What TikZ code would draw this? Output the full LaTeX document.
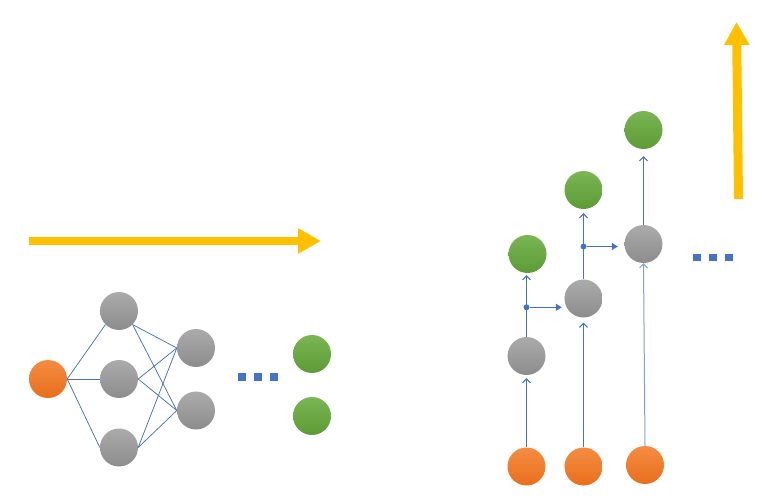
\documentclass[tikz,border=0pt]{standalone}
\usetikzlibrary{arrows.meta,calc}
\definecolor{lblue}{HTML}{4472C4}
\definecolor{llblue}{HTML}{7E9FD8}
\definecolor{yel}{HTML}{FFC000}
\definecolor{orgT}{HTML}{F58C42}
\definecolor{orgB}{HTML}{E86F1C}
\definecolor{gryT}{HTML}{ABABAB}
\definecolor{gryB}{HTML}{8C8C8C}
\definecolor{grnT}{HTML}{7AB654}
\definecolor{grnB}{HTML}{5C9B36}
\tikzset{
  ball/.style={circle,minimum size=38pt,inner sep=0pt,draw=none},
  orangeball/.style={ball,top color=orgT,bottom color=orgB},
  grayball/.style={ball,top color=gryT,bottom color=gryB},
  greenball/.style={ball,top color=grnT,bottom color=grnB},
  link/.style={lblue,line width=0.75pt},
  uparrow/.style={lblue,line width=1pt,-{Straight Barb[length=4pt,width=8pt]}},
  sidearrow/.style={lblue,line width=1pt,-{Triangle[length=6pt,width=7pt]}},
  junction/.style={circle,fill=lblue,minimum size=6pt,inner sep=0pt},
  sq/.style={rectangle,fill=lblue,minimum size=7.5pt,inner sep=0pt},
  bigarrow/.style={yel,line width=8.5pt,-{Triangle[length=23pt,width=24pt]}},
}
\begin{document}
\begin{tikzpicture}[x=1pt,y=-1pt]
\useasboundingbox (0,0) rectangle (764,500);
% left network
\node[orangeball] (o) at (48,379) {};
\node[grayball] (a1) at (119,311) {};
\node[grayball] (a2) at (119,379) {};
\node[grayball] (a3) at (119,447.5) {};
\node[grayball] (b1) at (196,348) {};
\node[grayball] (b2) at (196,410.5) {};
\node[greenball] (g1) at (312,354) {};
\node[greenball] (g2) at (312,416) {};
\node[sq] (s1) at (242,377) {};
\node[sq] (s2) at (258,377) {};
\node[sq] (s3) at (274,377) {};
\draw[link] (o.east) -- (a1.south west);
\draw[link] (o.east) -- (a2.west);
\draw[link] (o.east) -- (a3.west);
\foreach \a/\p in {a1/south east,a2/east,a3/east}{
  \draw[link] (\a.\p) -- (b1.west);
  \draw[link] (\a.\p) -- (b2.west);
}
% horizontal yellow arrow
\coordinate (ha) at (29,241);
\coordinate (hb) at (321,241);
\draw[bigarrow] (ha) -- (hb);
% right part
\node[orangeball] (p1) at (526.5,466.5) {};
\node[orangeball] (p2) at (583.5,466.5) {};
\node[orangeball] (p3) at (645,465) {};
\node[grayball] (h1) at (526.5,356) {};
\node[grayball] (h2) at (583.5,298.5) {};
\node[grayball] (h3) at (643.5,244) {};
\node[greenball] (y1) at (527.5,254) {};
\node[greenball] (y2) at (583.5,190) {};
\node[greenball] (y3) at (643.5,130) {};
\node[junction] (j1) at (526.5,307.3) {};
\node[junction] (j2) at (583.5,246.5) {};
\draw[uparrow,shorten >=3pt] (p1) -- (h1);
\draw[uparrow,shorten >=5pt] (p2) -- (h2);
\draw[llblue,line width=1pt,-{Straight Barb[length=4pt,width=8pt]}] (p3.north) -- (h3.south);
\draw[uparrow,shorten >=2pt] (h1.north) -- (y1.south -| h1.north);
\draw[uparrow,shorten >=4pt] (h2.north) -- (y2.south -| h2.north);
\draw[uparrow,shorten >=7pt] (h3) -- (y3);
\draw[sidearrow,shorten >=2.5pt] (j1) -- (j1 -| h2.west);
\draw[sidearrow,shorten >=6.5pt] (j2) -- (j2 -| h3.west);
\node[sq] (r1) at (697,257.7) {};
\node[sq] (r2) at (713,257.7) {};
\node[sq] (r3) at (729,257.7) {};
% vertical yellow arrow
\coordinate (va) at (738.5,199);
\coordinate (vb) at (736.5,22);
\draw[bigarrow,line width=9pt] (va) -- (vb);
\end{tikzpicture}
\end{document}
